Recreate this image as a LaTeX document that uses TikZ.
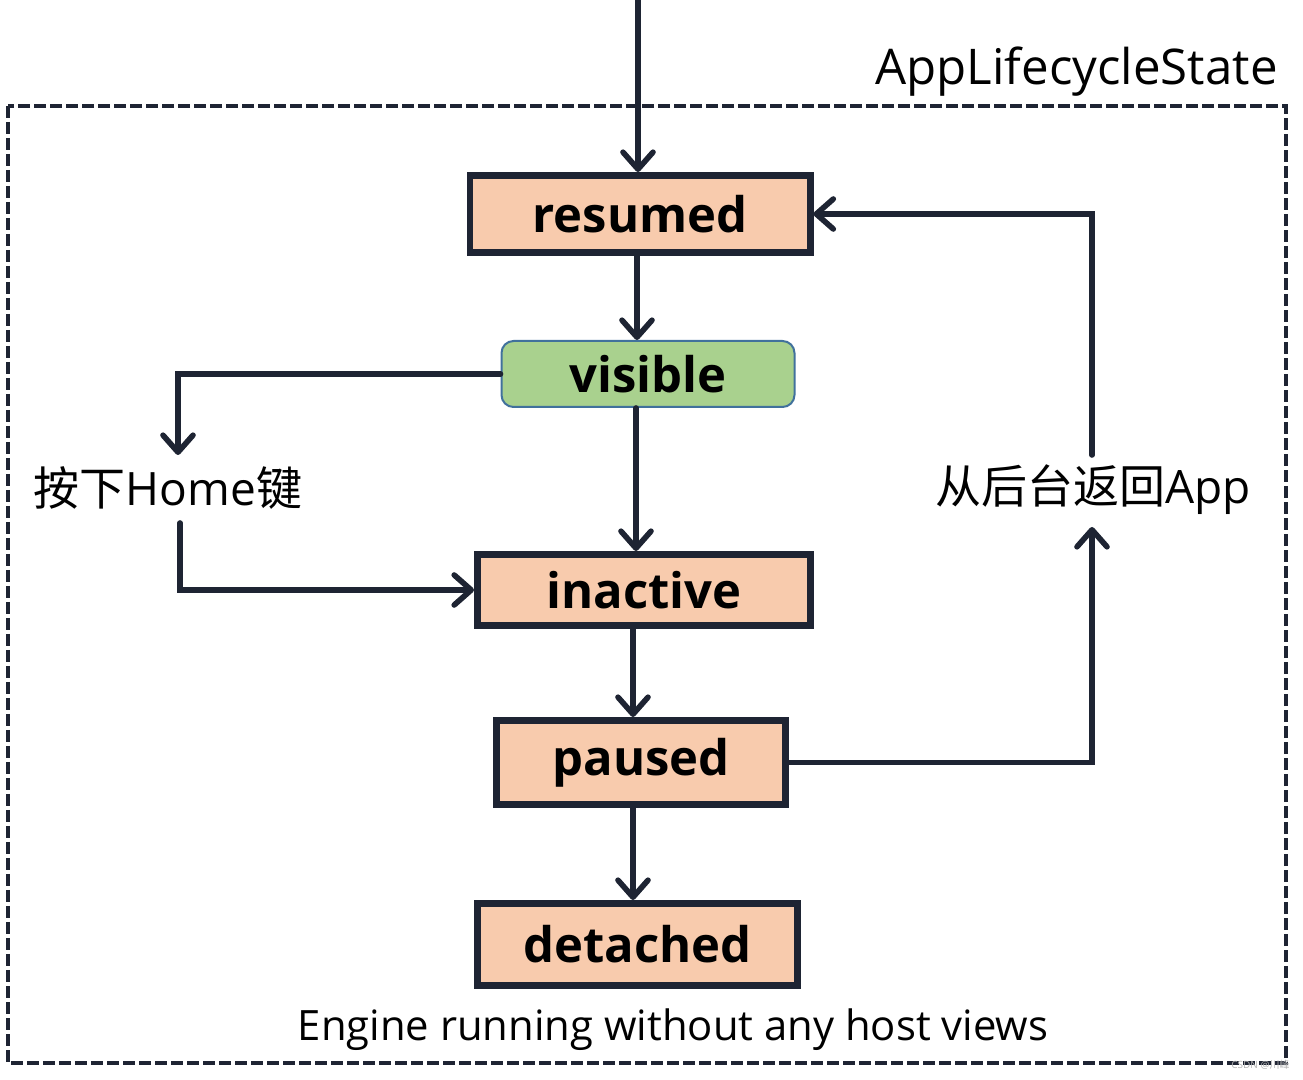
\documentclass[tikz,border=0pt]{standalone}
\usepackage{fontspec}
\setmainfont{Open Sans}
\newfontfamily\cjk{Noto Sans CJK SC}
\usetikzlibrary{arrows.meta}
\definecolor{linecol}{RGB}{30,36,51}
\definecolor{boxfill}{RGB}{248,203,173}
\definecolor{greenfill}{RGB}{169,209,142}
\definecolor{greenline}{RGB}{65,113,156}
\tikzset{
  statebox/.style={draw=linecol, line width=3.3pt, fill=boxfill, inner sep=0pt,
    font=\fontsize{24.5}{30}\selectfont\bfseries},
  arr/.style={draw=linecol, line width=2.8pt, line cap=round,
    -{Straight Barb[length=8.5pt,width=15pt,round]}},
  lbl/.style={inner sep=0pt, font=\fontsize{23}{28}\selectfont},
}
\begin{document}
\begin{tikzpicture}[x=0.5pt,y=-0.5pt]
\useasboundingbox (0,0) rectangle (1303,1080);
% frame
\draw[linecol, line width=1.7pt, dash pattern=on 6pt off 2pt] (8,106) rectangle (1286,1063);
\node[anchor=base east, inner sep=0pt, font=\fontsize{24.6}{30}\selectfont] (title) at (1278,85) {AppLifecycleState};
% states
\node[statebox, minimum width=170.2pt, minimum height=38.7pt] (resumed) at (640,214) {resumed};
\node[draw=greenline, line width=1pt, fill=greenfill, rounded corners=6pt, inner sep=0pt,
  minimum width=146.5pt, minimum height=33pt, font=\fontsize{24.5}{30}\selectfont\bfseries] (visible) at (648,374) {visible};
\node[statebox, minimum width=166.7pt, minimum height=35.7pt] (inactive) at (644,590) {inactive};
\node[statebox, minimum width=144.7pt, minimum height=42.2pt] (paused) at (641,762.5) {paused};
\node[statebox, minimum width=160.2pt, minimum height=41.2pt] (detached) at (637.5,944.5) {detached};
% labels
\node[lbl] (home) at (168,488) {{\cjk 按下}Home{\cjk 键}};
\node[lbl] (back) at (1093,490) {{\cjk 从后台返回}App};
\node[anchor=base, inner sep=0pt, font=\fontsize{20.9}{25}\selectfont] (engine) at (673,1040) {Engine running without any host views};
\node[anchor=base east, inner sep=0pt, text=gray!60, font=\fontsize{5}{6}\selectfont] (wm) at (1290,1068) {CSDN @{\cjk 川峰}};
% coordinates
\coordinate (start) at (638,0);
\coordinate (hin) at (178,455);
\coordinate (hout) at (180,523);
\coordinate (bin) at (1092,527);
\coordinate (bout) at (1092,455);
% connectors
\draw[arr] (start) -- (start |- resumed.north);
\draw[arr] ([xshift=-1.5pt]resumed.south) -- ([xshift=-1.5pt]resumed.south |- visible.north);
\draw[arr] ([xshift=-6pt]visible.south) -- ([xshift=-6pt]visible.south |- inactive.north);
\draw[arr] (visible.west) -| (hin);
\draw[arr] (hout) |- (inactive.west);
\draw[arr] ([xshift=-5.5pt]inactive.south) -- ([xshift=-5.5pt]inactive.south |- paused.north);
\draw[arr] ([xshift=-4pt]paused.south) -- ([xshift=-4pt]paused.south |- detached.north);
\draw[arr] (paused.east) -| (bin);
\draw[arr] (bout) |- (resumed.east);
\end{tikzpicture}
\end{document}
